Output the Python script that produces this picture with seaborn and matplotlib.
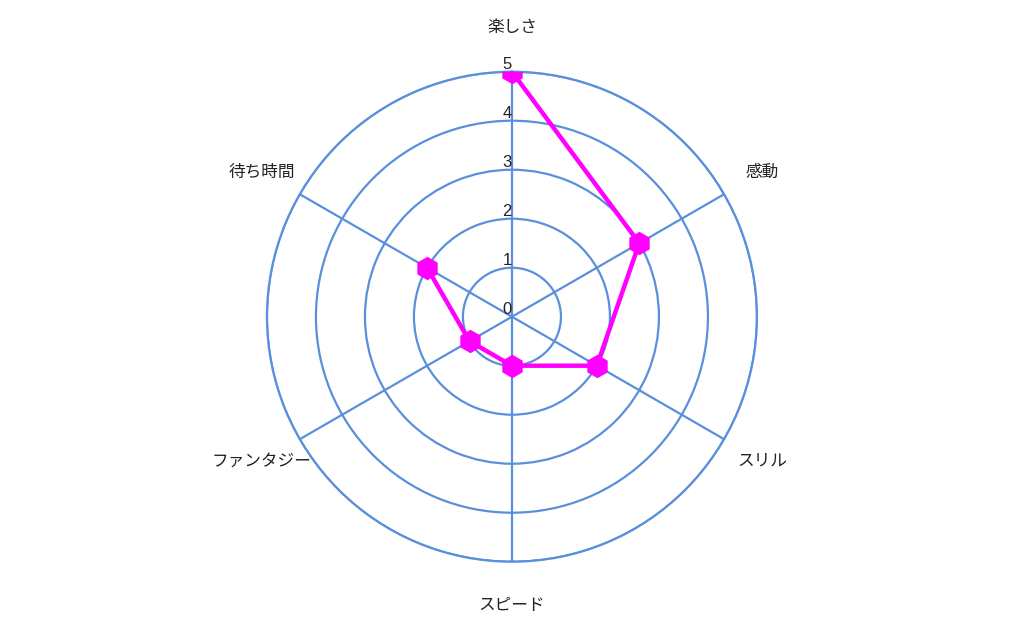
import numpy as np
import matplotlib
matplotlib.use("Agg")
import matplotlib.pyplot as plt
import seaborn as sns

# ── Data ──────────────────────────────────────────────────────────────────────
categories = ["楽しさ", "感動", "スリル", "スピード", "ファンタジー", "待ち時間"]
scores = [5, 3, 2, 1, 1, 2]
r_ticks = [0, 1, 2, 3, 4, 5]

sns.set_theme(style="white")
plt.rcParams["font.family"] = ["Noto Sans CJK JP", "DejaVu Sans"]

grid_color = "#5a8fdc"
line_color = "#ff00ff"

angles = np.arange(len(categories)) * 2 * np.pi / len(categories)

fig = plt.figure(figsize=(10.24, 6.34), dpi=100)
ax = fig.add_axes([0.2607, 0.114, 0.4785, 0.7729], projection="polar")
ax.set_theta_zero_location("N")
ax.set_theta_direction(-1)
ax.set_ylim(0, 5)

# closed polygon
theta = np.append(angles, angles[0])
vals = scores + scores[:1]
sns.lineplot(x=theta, y=vals, ax=ax, sort=False, color=line_color,
             linewidth=3.2, marker="h", markersize=16,
             markeredgecolor=line_color, markerfacecolor=line_color,
             zorder=5, legend=False)

# grid
ax.set_xticks(angles)
ax.set_xticklabels([])
ax.set_yticks(r_ticks[1:])
ax.set_yticklabels([])
ax.grid(True, color=grid_color, linewidth=1.6)
ax.spines["polar"].set_color(grid_color)
ax.spines["polar"].set_linewidth(1.6)
ax.set_xlabel("")
ax.set_ylabel("")

# radial tick labels along the top spoke
for r in r_ticks:
    ax.text(0, r, str(r), transform=ax.transData, ha="right", va="bottom",
            fontsize=12, color="#222222", family="Liberation Sans")

# category labels
for a, name in zip(angles, categories):
    ax.text(a, 5.9, name, ha="center", va="center", fontsize=12, color="#222222")

fig.savefig("out.png", dpi=100)
